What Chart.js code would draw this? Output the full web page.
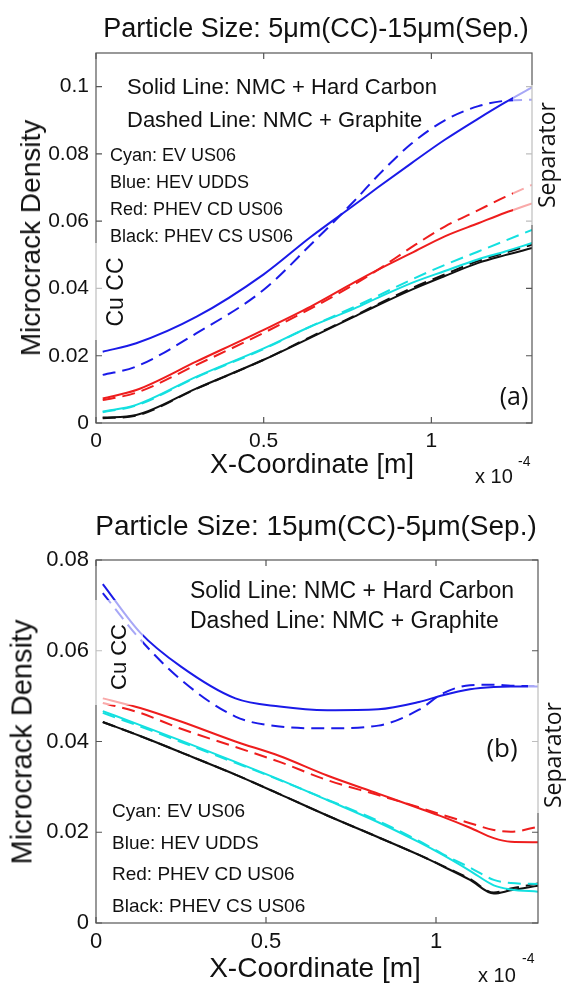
<!DOCTYPE html>
<html>
<head>
<meta charset="utf-8">
<script src="https://cdn.jsdelivr.net/npm/chart.js@4.4.1/dist/chart.umd.min.js"></script>
<style>
  body { margin: 0; background: #fff; }
  #wrap { position: relative; width: 566px; height: 987px; overflow: hidden; }
  canvas { position: absolute; left: 0; }
  .t { position: absolute; white-space: nowrap; line-height: 1; color: #111;
       font-family: "Liberation Sans", Arial, Helvetica, sans-serif; transform: translate(-50%, -50%); }
  .l { position: absolute; white-space: nowrap; line-height: 1; color: #111;
       font-family: "Liberation Sans", Arial, Helvetica, sans-serif; transform: translateY(-50%); }
  .r { transform: translate(-50%, -50%) rotate(-90deg); }
  .os { font-family: "Open Sans", "Noto Sans", sans-serif; }
  .fade { position: absolute; background: rgba(255, 255, 255, 0.62); }
</style>
</head>
<body>
<div id="wrap">
  <canvas id="chartA" width="566" height="490" style="top:0"></canvas>
  <canvas id="chartB" width="566" height="497" style="top:490px"></canvas>

  <!-- top panel (a) -->
  <div class="t" style="left:316px; top:28px; font-size:27px">Particle Size: 5&mu;m(CC)-15&mu;m(Sep.)</div>
  <div class="t r" style="left:31px; top:238px; font-size:28px">Microcrack Density</div>
  <div class="t" style="left:312px; top:464px; font-size:27px">X-Coordinate [m]</div>
  <div class="l" style="left:475px; top:476px; font-size:20px">x 10</div>
  <div class="l" style="left:518px; top:461px; font-size:14px">-4</div>
  <div class="l" style="left:127px; top:87px; font-size:22px">Solid Line: NMC + Hard Carbon</div>
  <div class="l" style="left:127px; top:120px; font-size:22px">Dashed Line: NMC + Graphite</div>
  <div class="l" style="left:110px; top:155px; font-size:18px">Cyan: EV US06</div>
  <div class="l" style="left:110px; top:182px; font-size:18px">Blue: HEV UDDS</div>
  <div class="l" style="left:110px; top:209px; font-size:18px">Red: PHEV CD US06</div>
  <div class="l" style="left:110px; top:236px; font-size:18px">Black: PHEV CS US06</div>
  <div class="fade" style="left:90px; top:243px; width:48px; height:97px"></div>
  <div class="t r" style="left:115px; top:292px; font-size:23px">Cu CC</div>
  <div class="fade" style="left:513px; top:85px; width:53px; height:140px"></div>
  <div class="t r os" style="left:546px; top:155px; font-size:23px">Separator</div>
  <div class="t os" style="left:514px; top:395px; font-size:25px">(a)</div>

  <!-- bottom panel (b) -->
  <div class="t" style="left:316px; top:526px; font-size:28px">Particle Size: 15&mu;m(CC)-5&mu;m(Sep.)</div>
  <div class="t r" style="left:22px; top:742px; font-size:29px">Microcrack Density</div>
  <div class="t" style="left:315px; top:968px; font-size:28px">X-Coordinate [m]</div>
  <div class="l" style="left:478px; top:975px; font-size:20px">x 10</div>
  <div class="l" style="left:522px; top:958px; font-size:14px">-4</div>
  <div class="l" style="left:190px; top:590px; font-size:23px">Solid Line: NMC + Hard Carbon</div>
  <div class="l" style="left:190px; top:620px; font-size:23px">Dashed Line: NMC + Graphite</div>
  <div class="l" style="left:112px; top:810px; font-size:19px">Cyan: EV US06</div>
  <div class="l" style="left:112px; top:842px; font-size:19px">Blue: HEV UDDS</div>
  <div class="l" style="left:112px; top:873px; font-size:19px">Red: PHEV CD US06</div>
  <div class="l" style="left:112px; top:905px; font-size:19px">Black: PHEV CS US06</div>
  <div class="fade" style="left:92px; top:600px; width:51px; height:105px"></div>
  <div class="t r" style="left:119px; top:657px; font-size:22px">Cu CC</div>
  <div class="fade" style="left:528px; top:683px; width:38px; height:130px"></div>
  <div class="t r os" style="left:552px; top:755px; font-size:23px">Separator</div>
  <div class="t os" style="left:502px; top:747px; font-size:26px">(b)</div>
</div>

<script>
// x positions are in units of 1e-4 m
var xA = [0.02, 0.12, 0.3, 0.5, 0.64, 0.77, 0.84, 0.94, 1.04, 1.14, 1.22, 1.3];
var blueSolidA  = [0.0212, 0.0237, 0.0316, 0.0442, 0.0553, 0.0648, 0.0700, 0.0772, 0.0842, 0.0905, 0.0953, 0.0998];
var blueDashA   = [0.0143, 0.0168, 0.0267, 0.0396, 0.0530, 0.0660, 0.0735, 0.0830, 0.0900, 0.0942, 0.0958, 0.0961];
var redSolidA   = [0.0073, 0.0098, 0.0183, 0.0277, 0.0346, 0.0418, 0.0455, 0.0505, 0.0555, 0.0594, 0.0625, 0.0653];
var redDashA    = [0.0068, 0.0090, 0.0173, 0.0268, 0.0340, 0.0412, 0.0455, 0.0522, 0.0584, 0.0633, 0.0672, 0.0708];
var cyanSolidA  = [0.0034, 0.0054, 0.0138, 0.0222, 0.0287, 0.0340, 0.0372, 0.0416, 0.0452, 0.0487, 0.0510, 0.0535];
var cyanDashA   = [0.0032, 0.0052, 0.0136, 0.0220, 0.0287, 0.0345, 0.0378, 0.0426, 0.0470, 0.0510, 0.0542, 0.0574];
var blackSolidA = [0.0016, 0.0024, 0.0103, 0.0188, 0.0254, 0.0316, 0.0350, 0.0396, 0.0437, 0.0476, 0.0499, 0.0520];
var blackDashA  = [0.0014, 0.0022, 0.0102, 0.0188, 0.0256, 0.0318, 0.0353, 0.0400, 0.0442, 0.0482, 0.0506, 0.0530];

var xB = [0.02, 0.13, 0.25, 0.41, 0.54, 0.68, 0.83, 0.95, 1.02, 1.1, 1.17, 1.22, 1.3];
var blueSolidB  = [0.0747, 0.0640, 0.0565, 0.0495, 0.0477, 0.0469, 0.0471, 0.0487, 0.0502, 0.0515, 0.0520, 0.0521, 0.0521];
var blueDashB   = [0.0727, 0.0625, 0.0536, 0.0455, 0.0433, 0.0429, 0.0435, 0.0470, 0.0506, 0.0524, 0.0525, 0.0523, 0.0522];
var redSolidB   = [0.0495, 0.0474, 0.0444, 0.0400, 0.0368, 0.0325, 0.0285, 0.0253, 0.0234, 0.0210, 0.0187, 0.0179, 0.0178];
var redDashB    = [0.0485, 0.0463, 0.0428, 0.0388, 0.0355, 0.0315, 0.0282, 0.0255, 0.0238, 0.0220, 0.0205, 0.0201, 0.0212];
var cyanSolidB  = [0.0467, 0.0436, 0.0402, 0.0355, 0.0316, 0.0271, 0.0222, 0.0178, 0.0150, 0.0115, 0.0083, 0.0074, 0.0069];
var cyanDashB   = [0.0463, 0.0433, 0.0399, 0.0353, 0.0315, 0.0272, 0.0225, 0.0181, 0.0152, 0.0122, 0.0095, 0.0088, 0.0086];
var blackSolidB = [0.0443, 0.0412, 0.0376, 0.0327, 0.0284, 0.0237, 0.0189, 0.0150, 0.0125, 0.0095, 0.0065, 0.0072, 0.0082];
var blackDashB  = [0.0443, 0.0412, 0.0376, 0.0327, 0.0284, 0.0237, 0.0189, 0.0150, 0.0126, 0.0097, 0.0067, 0.0076, 0.0087];

var xTicks = [0, 0.5, 1];
var yTicksA = [0, 0.02, 0.04, 0.06, 0.08, 0.1];
var yTicksB = [0, 0.02, 0.04, 0.06, 0.08];

var BLUE = '#1a1ae8', RED = '#ee1d1d', CYAN = '#14e0e0', BLACK = '#111111';

function pts(xs, ys) {
  return xs.map(function (x, i) { return { x: x, y: ys[i] }; });
}

function line(xs, ys, color, dashed) {
  return {
    data: pts(xs, ys),
    borderColor: color,
    borderWidth: 2,
    borderDash: dashed ? [13, 7] : [],
    pointRadius: 0,
    cubicInterpolationMode: 'monotone',
    fill: false
  };
}

// matlab style box with inward ticks on all four sides
var boxPlugin = {
  id: 'box',
  afterDatasetsDraw: function (chart) {
    var c = chart.ctx, a = chart.chartArea;
    var xs = chart.scales.x, ys = chart.scales.y;
    c.save();
    c.strokeStyle = '#555';
    c.lineWidth = 1.2;
    c.strokeRect(a.left, a.top, a.right - a.left, a.bottom - a.top);
    c.beginPath();
    xs.ticks.forEach(function (t) {
      var p = xs.getPixelForValue(t.value);
      c.moveTo(p, a.bottom); c.lineTo(p, a.bottom - 6);
      c.moveTo(p, a.top); c.lineTo(p, a.top + 6);
    });
    ys.ticks.forEach(function (t) {
      var p = ys.getPixelForValue(t.value);
      c.moveTo(a.left, p); c.lineTo(a.left + 6, p);
      c.moveTo(a.right, p); c.lineTo(a.right - 6, p);
    });
    c.stroke();
    c.restore();
  }
};

function makeChart(id, xs, series, yMax, yTicks, box, fontSize, xPad) {
  var ds = [
    line(xs, series[0], CYAN, false), line(xs, series[1], CYAN, true),
    line(xs, series[2], BLUE, false), line(xs, series[3], BLUE, true),
    line(xs, series[4], RED, false), line(xs, series[5], RED, true),
    line(xs, series[6], BLACK, false), line(xs, series[7], BLACK, true)
  ];
  var font = { family: '"Liberation Sans", Arial, Helvetica, sans-serif', size: fontSize };
  return new Chart(document.getElementById(id), {
    type: 'line',
    data: { datasets: ds },
    plugins: [boxPlugin],
    options: {
      responsive: false,
      animation: false,
      layout: { padding: { top: box.top, right: box.right, left: 0, bottom: 0 } },
      plugins: { legend: { display: false }, tooltip: { enabled: false } },
      scales: {
        x: {
          type: 'linear', min: 0, max: 1.3,
          grid: { display: false, drawTicks: false }, border: { display: false },
          afterBuildTicks: function (s) { s.ticks = xTicks.map(function (v) { return { value: v }; }); },
          afterFit: function (s) { s.height = box.xh; },
          ticks: { color: '#111', font: font, padding: xPad, maxRotation: 0,
                   callback: function (v) { return String(v); } }
        },
        y: {
          type: 'linear', min: 0, max: yMax,
          grid: { display: false, drawTicks: false }, border: { display: false },
          afterBuildTicks: function (s) { s.ticks = yTicks.map(function (v) { return { value: v }; }); },
          afterFit: function (s) { s.width = 96; },
          ticks: { color: '#111', font: font, padding: 7,
                   callback: function (v) { return String(+v.toFixed(2)); } }
        }
      }
    }
  });
}

makeChart('chartA', xA,
  [cyanSolidA, cyanDashA, blueSolidA, blueDashA, redSolidA, redDashA, blackSolidA, blackDashA],
  0.11, yTicksA, { top: 53, right: 34, xh: 67 }, 21, 6);

makeChart('chartB', xB,
  [cyanSolidB, cyanDashB, blueSolidB, blueDashB, redSolidB, redDashB, blackSolidB, blackDashB],
  0.08, yTicksB, { top: 70, right: 28, xh: 64 }, 22, 6);
</script>
</body>
</html>
